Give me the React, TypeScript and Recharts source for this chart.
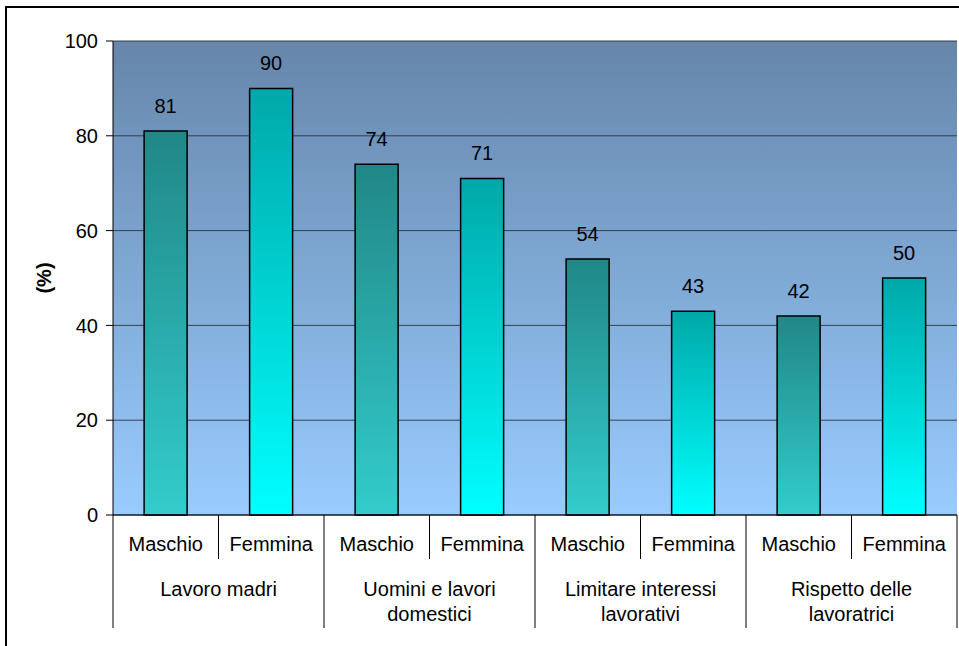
import {
  BarChart,
  Bar,
  Cell,
  XAxis,
  YAxis,
  CartesianGrid,
  LabelList,
} from "recharts";

const groups = [
  "Lavoro madri",
  "Uomini e lavori\ndomestici",
  "Limitare interessi\nlavorativi",
  "Rispetto delle\nlavoratrici",
];
const sexes = ["Maschio", "Femmina"];
const maschio = [81, 74, 54, 42];
const femmina = [90, 71, 43, 50];
const yTicks = [0, 20, 40, 60, 80, 100];

const data = groups.flatMap((g, i) => [
  { key: `${i}-m`, sex: sexes[0], group: g, value: maschio[i] },
  { key: `${i}-f`, sex: sexes[1], group: g, value: femmina[i] },
]);

const font = "'Liberation Sans', Arial, sans-serif";
const fs = 20;

const CategoryTick = (props: any) => {
  const { x, y, payload, index, width, visibleTicksCount } = props;
  const half = width / visibleTicksCount / 2;
  const row = data[index];
  const isLast = index % 2 === 1;
  const lines = row ? row.group.split("\n") : [];
  return (
    <g>
      <text
        x={x}
        y={y + 36}
        textAnchor="middle"
        fontSize={fs}
        fontFamily={font}
        fill="#000"
      >
        {payload.value}
      </text>
      {isLast ? (
        <>
          <line x1={x - half} x2={x - half} y1={y} y2={y + 44} stroke="#000" />
          <line x1={x + half} x2={x + half} y1={y} y2={y + 113} stroke="#000" />
          {lines.map((l: string, k: number) => (
            <text
              key={k}
              x={x - half}
              y={y + 81 + k * 25}
              textAnchor="middle"
              fontSize={fs}
              fontFamily={font}
              fill="#000"
            >
              {l}
            </text>
          ))}
        </>
      ) : index === 0 ? (
        <line x1={x - half} x2={x - half} y1={y} y2={y + 113} stroke="#000" />
      ) : null}
    </g>
  );
};

const YLabel = (props: any) => {
  const { viewBox } = props;
  const cx = viewBox.x + 38;
  const cy = viewBox.y + viewBox.height / 2;
  return (
    <text
      x={cx}
      y={cy}
      transform={`rotate(-90, ${cx}, ${cy})`}
      textAnchor="middle"
      dominantBaseline="central"
      fontSize={fs}
      fontWeight="bold"
      fontFamily={font}
      fill="#000"
    >
      (%)
    </text>
  );
};

export default function App() {
  return (
    <div
      style={{
        position: "absolute",
        left: 0,
        top: 0,
        width: 959,
        height: 646,
        overflow: "hidden",
        background: "#fff",
      }}
    >
      <div
        style={{
          position: "absolute",
          left: 5,
          top: 6,
          width: 1000,
          height: 700,
          border: "2px solid #000",
        }}
      />
      <div style={{ position: "absolute", left: 0, top: 0 }}>
        <BarChart
          width={959}
          height={646}
          data={data}
          margin={{ top: 41, right: 2, bottom: 6, left: 6 }}
          barCategoryGap="29.5%"
        >
          <defs>
            <linearGradient id="bg" x1="0" y1="0" x2="0" y2="1">
              <stop offset="0%" stopColor="#6686aa" />
              <stop offset="100%" stopColor="#99ccff" />
            </linearGradient>
            <linearGradient id="gm" x1="0" y1="0" x2="0" y2="1">
              <stop offset="0%" stopColor="#218787" />
              <stop offset="100%" stopColor="#33cccc" />
            </linearGradient>
            <linearGradient id="gf" x1="0" y1="0" x2="0" y2="1">
              <stop offset="0%" stopColor="#00a8a8" />
              <stop offset="100%" stopColor="#00ffff" />
            </linearGradient>
          </defs>
          <CartesianGrid
            vertical={false}
            fill="url(#bg)"
            stroke="#2a3440"
            strokeOpacity={0.9}
          />
          <XAxis
            dataKey="sex"
            height={125}
            interval={0}
            tickLine={false}
            tickSize={0}
            tickMargin={0}
            axisLine={{ stroke: "#000" }}
            tick={<CategoryTick />}
          />
          <XAxis
            xAxisId="top"
            dataKey="sex"
            orientation="top"
            height={0}
            tick={false}
            tickLine={false}
            axisLine={{ stroke: "#808080", strokeWidth: 1.5 }}
          />
          <YAxis
            domain={[0, 100]}
            ticks={yTicks}
            width={107}
            tickSize={7}
            tickMargin={8}
            axisLine={{ stroke: "#000" }}
            tickLine={{ stroke: "#000" }}
            tick={{ fontSize: fs, fill: "#000", fontFamily: font }}
            label={<YLabel />}
          />
          <YAxis
            yAxisId="right"
            orientation="right"
            width={0}
            tick={false}
            tickLine={false}
            axisLine={{ stroke: "#808080", strokeWidth: 1.5 }}
          />
          <Bar
            dataKey="value"
            stroke="#000"
            strokeWidth={1.5}
            isAnimationActive={false}
          >
            {data.map((d) => (
              <Cell
                key={d.key}
                fill={d.sex === "Maschio" ? "url(#gm)" : "url(#gf)"}
              />
            ))}
            <LabelList
              dataKey="value"
              position="top"
              offset={18}
              fill="#000"
              fontSize={fs}
              fontFamily={font}
            />
          </Bar>
        </BarChart>
      </div>
    </div>
  );
}
